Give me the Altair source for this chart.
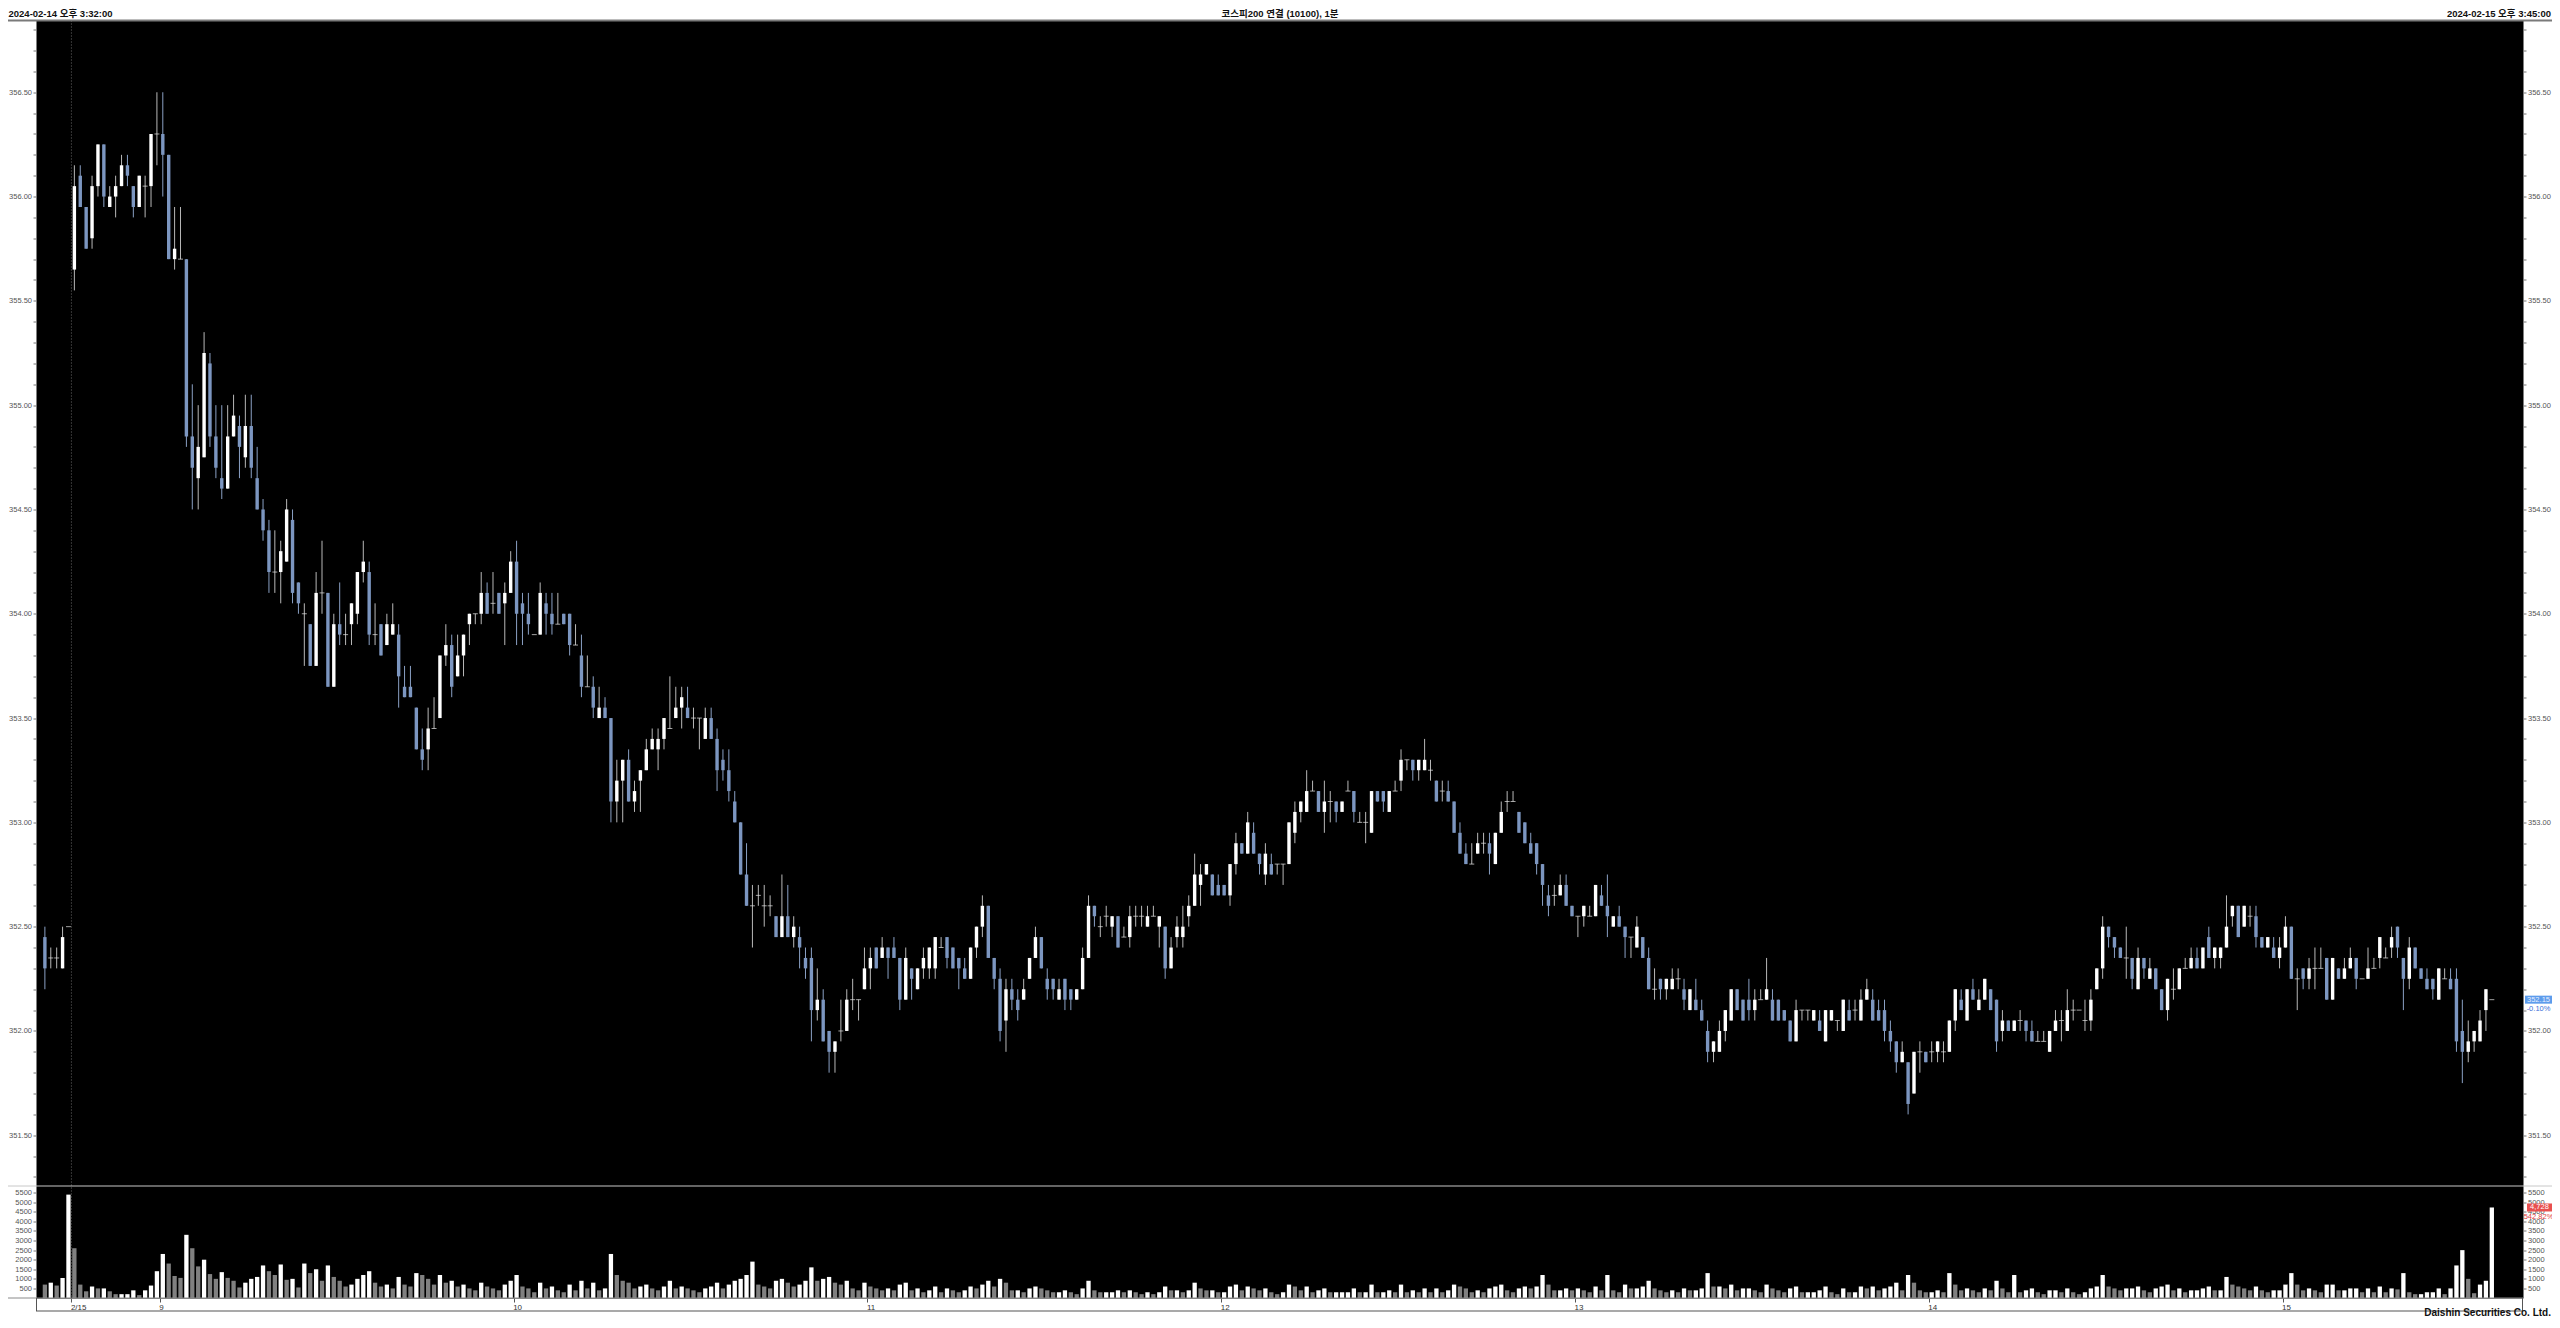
import altair as alt
import pandas as pd

# ---------------- data ----------------
# 5 closing candles of 2024-02-14, then 2024-02-15 from 08:45 (1-minute bars)
opens = [
    352.45, 352.35, 352.35, 352.30, 352.50,
    355.65, 356.10, 355.95, 355.80, 356.05, 356.25, 355.95, 356.00, 356.05, 356.15,
    356.05, 355.95, 356.05, 356.05, 356.30, 356.30, 356.20, 355.70, 355.70, 355.70,
    354.85, 354.65, 354.75, 355.20, 354.85, 354.65, 354.60, 354.85, 354.90, 354.75,
    354.90, 354.65, 354.50, 354.40, 354.20, 354.20, 354.25, 354.45, 354.15, 354.00,
    353.95, 353.75, 354.10, 354.10, 353.65, 353.95, 353.90, 353.95, 354.00, 354.20,
    354.20, 353.90, 353.95, 353.85, 353.90, 353.90, 353.65, 353.65, 353.55, 353.35,
    353.35, 353.45, 353.50, 353.80, 353.85, 353.70, 353.80, 353.95, 354.00, 354.00,
    354.10, 354.05, 354.10, 354.05, 354.10, 354.25, 354.05, 354.00, 353.90, 353.90,
    354.05, 354.00, 353.95, 354.00, 354.00, 353.85, 353.80, 353.65, 353.65, 353.50,
    353.55, 353.50, 353.10, 353.20, 353.30, 353.10, 353.20, 353.25, 353.35, 353.35,
    353.40, 353.45, 353.50, 353.55, 353.55, 353.50, 353.50, 353.40, 353.50, 353.40,
    353.30, 353.25, 353.10, 353.00, 352.75, 352.60, 352.65, 352.60, 352.60, 352.55,
    352.45, 352.55, 352.45, 352.45, 352.35, 352.35, 352.10, 352.15, 352.00, 351.90,
    352.00, 352.00, 352.15, 352.15, 352.20, 352.30, 352.40, 352.35, 352.40, 352.40,
    352.35, 352.15, 352.30, 352.20, 352.30, 352.30, 352.30, 352.40, 352.45, 352.40,
    352.35, 352.30, 352.25, 352.40, 352.50, 352.60, 352.35, 352.25, 352.05, 352.20,
    352.15, 352.15, 352.25, 352.35, 352.45, 352.25, 352.25, 352.15, 352.25, 352.20,
    352.15, 352.20, 352.35, 352.60, 352.50, 352.55, 352.50, 352.55, 352.45, 352.45,
    352.55, 352.55, 352.50, 352.55, 352.50, 352.50, 352.30, 352.45, 352.45, 352.55,
    352.60, 352.70, 352.75, 352.75, 352.70, 352.70, 352.65, 352.80, 352.90, 352.85,
    352.95, 352.85, 352.75, 352.80, 352.80, 352.80, 352.80, 352.95, 353.05, 353.05,
    353.15, 353.15, 353.05, 353.10, 353.10, 353.05, 353.15, 353.15, 353.00, 353.00,
    352.95, 353.15, 353.15, 353.05, 353.15, 353.20, 353.30, 353.30, 353.25, 353.25,
    353.25, 353.20, 353.15, 353.15, 353.10, 352.95, 352.85, 352.80, 352.85, 352.90,
    352.90, 352.80, 352.95, 353.10, 353.10, 353.05, 353.00, 352.90, 352.90, 352.80,
    352.65, 352.65, 352.65, 352.70, 352.60, 352.55, 352.55, 352.55, 352.55, 352.65,
    352.60, 352.50, 352.55, 352.50, 352.45, 352.40, 352.45, 352.35, 352.20, 352.25,
    352.20, 352.20, 352.25, 352.20, 352.10, 352.15, 352.10, 352.00, 351.90, 351.90,
    352.00, 352.05, 352.20, 352.15, 352.15, 352.10, 352.15, 352.15, 352.15, 352.15,
    352.10, 352.05, 351.95, 352.10, 352.10, 352.05, 352.05, 351.95, 352.05, 352.05,
    352.00, 352.10, 352.10, 352.05, 352.15, 352.15, 352.10, 352.10, 352.00, 351.95,
    351.85, 351.85, 351.70, 351.90, 351.90, 351.90, 351.90, 351.90, 351.90, 352.05,
    352.15, 352.05, 352.20, 352.10, 352.15, 352.20, 352.15, 352.00, 352.05, 352.00,
    352.05, 352.05, 352.00, 351.95, 351.95, 351.90, 352.00, 352.05, 352.00, 352.10,
    352.10, 352.05, 352.05, 352.20, 352.30, 352.50, 352.45, 352.40, 352.35, 352.35,
    352.20, 352.35, 352.25, 352.30, 352.20, 352.10, 352.20, 352.20, 352.30, 352.30,
    352.35, 352.30, 352.45, 352.35, 352.35, 352.40, 352.55, 352.60, 352.50, 352.55,
    352.55, 352.45, 352.40, 352.40, 352.35, 352.40, 352.50, 352.25, 352.30, 352.25,
    352.30, 352.30, 352.35, 352.15, 352.30, 352.25, 352.30, 352.35, 352.25, 352.25,
    352.30, 352.35, 352.35, 352.40, 352.50, 352.35, 352.25, 352.40, 352.30, 352.25,
    352.25, 352.15, 352.25, 352.25, 352.25, 352.00, 351.90, 351.95, 351.95, 352.10,
    352.15,
]
highs = [
    352.50, 352.40, 352.40, 352.50, 352.50,
    356.15, 356.15, 355.95, 356.10, 356.25, 356.25, 356.05, 356.10, 356.20, 356.20,
    356.05, 356.10, 356.10, 356.30, 356.50, 356.50, 356.20, 355.95, 355.95, 355.70,
    355.10, 355.00, 355.35, 355.25, 355.00, 355.00, 355.00, 355.05, 354.95, 355.05,
    355.05, 354.80, 354.55, 354.45, 354.40, 354.35, 354.55, 354.50, 354.15, 354.05,
    353.95, 354.20, 354.35, 354.10, 354.00, 354.15, 354.00, 354.05, 354.20, 354.35,
    354.25, 354.05, 353.95, 354.00, 354.05, 353.95, 353.75, 353.75, 353.55, 353.45,
    353.55, 353.60, 353.80, 353.95, 353.90, 353.90, 353.90, 354.00, 354.00, 354.20,
    354.15, 354.20, 354.10, 354.15, 354.30, 354.35, 354.10, 354.10, 353.90, 354.15,
    354.10, 354.10, 354.10, 354.00, 354.00, 353.95, 353.90, 353.80, 353.70, 353.65,
    353.60, 353.50, 353.30, 353.30, 353.35, 353.20, 353.25, 353.40, 353.45, 353.45,
    353.50, 353.70, 353.65, 353.65, 353.65, 353.55, 353.50, 353.55, 353.55, 353.45,
    353.35, 353.35, 353.15, 353.00, 352.90, 352.70, 352.70, 352.70, 352.65, 352.55,
    352.75, 352.70, 352.55, 352.50, 352.40, 352.40, 352.30, 352.20, 352.00, 351.95,
    352.15, 352.20, 352.25, 352.15, 352.40, 352.40, 352.40, 352.45, 352.40, 352.45,
    352.35, 352.40, 352.30, 352.30, 352.40, 352.40, 352.45, 352.45, 352.45, 352.40,
    352.35, 352.35, 352.40, 352.50, 352.65, 352.60, 352.35, 352.30, 352.25, 352.25,
    352.20, 352.25, 352.35, 352.50, 352.45, 352.30, 352.25, 352.25, 352.25, 352.20,
    352.20, 352.40, 352.65, 352.60, 352.55, 352.60, 352.55, 352.55, 352.50, 352.60,
    352.60, 352.60, 352.60, 352.60, 352.55, 352.50, 352.45, 352.55, 352.60, 352.65,
    352.85, 352.80, 352.80, 352.75, 352.75, 352.70, 352.80, 352.95, 352.90, 353.05,
    353.00, 352.85, 352.90, 352.85, 352.80, 352.80, 353.00, 353.10, 353.10, 353.25,
    353.20, 353.15, 353.20, 353.15, 353.10, 353.10, 353.20, 353.15, 353.05, 353.05,
    353.15, 353.15, 353.15, 353.15, 353.20, 353.35, 353.30, 353.30, 353.30, 353.40,
    353.30, 353.20, 353.20, 353.20, 353.10, 353.00, 352.90, 352.90, 352.95, 352.95,
    352.95, 352.95, 353.10, 353.15, 353.15, 353.05, 353.00, 352.95, 352.90, 352.80,
    352.70, 352.70, 352.75, 352.75, 352.60, 352.55, 352.60, 352.60, 352.70, 352.70,
    352.75, 352.55, 352.60, 352.50, 352.45, 352.55, 352.45, 352.40, 352.30, 352.25,
    352.25, 352.30, 352.30, 352.25, 352.20, 352.25, 352.15, 352.05, 351.95, 352.05,
    352.10, 352.20, 352.20, 352.15, 352.25, 352.20, 352.20, 352.35, 352.20, 352.15,
    352.10, 352.05, 352.15, 352.10, 352.10, 352.10, 352.10, 352.10, 352.10, 352.05,
    352.15, 352.15, 352.15, 352.20, 352.25, 352.20, 352.15, 352.15, 352.05, 351.95,
    351.95, 351.85, 351.90, 351.95, 351.90, 351.95, 351.95, 351.95, 352.05, 352.20,
    352.20, 352.20, 352.25, 352.20, 352.25, 352.20, 352.15, 352.10, 352.05, 352.05,
    352.10, 352.05, 352.05, 352.00, 352.00, 352.00, 352.10, 352.10, 352.20, 352.15,
    352.10, 352.15, 352.20, 352.30, 352.55, 352.50, 352.45, 352.40, 352.50, 352.35,
    352.40, 352.35, 352.35, 352.30, 352.20, 352.25, 352.30, 352.30, 352.35, 352.40,
    352.40, 352.40, 352.50, 352.40, 352.40, 352.65, 352.60, 352.60, 352.60, 352.60,
    352.60, 352.45, 352.45, 352.45, 352.45, 352.55, 352.50, 352.30, 352.30, 352.35,
    352.40, 352.40, 352.35, 352.35, 352.30, 352.35, 352.40, 352.35, 352.25, 352.40,
    352.35, 352.45, 352.40, 352.50, 352.50, 352.35, 352.45, 352.40, 352.30, 352.30,
    352.25, 352.30, 352.30, 352.30, 352.30, 352.15, 352.05, 352.00, 352.10, 352.20,
    352.15,
]
lows = [
    352.20, 352.30, 352.30, 352.30, 352.50,
    355.55, 355.95, 355.75, 355.75, 356.00, 355.95, 355.95, 355.90, 356.05, 356.05,
    355.90, 355.95, 355.90, 355.95, 356.15, 356.00, 355.70, 355.65, 355.70, 354.80,
    354.50, 354.50, 354.75, 354.80, 354.65, 354.55, 354.60, 354.85, 354.65, 354.70,
    354.65, 354.50, 354.35, 354.10, 354.10, 354.05, 354.25, 354.05, 354.00, 353.75,
    353.75, 353.75, 354.00, 353.65, 353.65, 353.85, 353.85, 353.85, 353.95, 354.15,
    353.85, 353.85, 353.80, 353.85, 353.90, 353.55, 353.60, 353.60, 353.35, 353.25,
    353.25, 353.45, 353.50, 353.75, 353.60, 353.70, 353.70, 353.85, 353.95, 353.95,
    354.00, 354.00, 354.00, 353.85, 354.10, 353.85, 353.85, 353.90, 353.90, 353.90,
    353.90, 353.90, 353.95, 353.95, 353.80, 353.85, 353.60, 353.65, 353.50, 353.50,
    353.50, 353.00, 353.00, 353.00, 353.10, 353.05, 353.05, 353.25, 353.35, 353.25,
    353.35, 353.45, 353.50, 353.45, 353.50, 353.45, 353.35, 353.40, 353.40, 353.15,
    353.20, 353.10, 353.00, 352.75, 352.60, 352.40, 352.60, 352.50, 352.55, 352.45,
    352.45, 352.45, 352.40, 352.30, 352.25, 351.95, 352.05, 351.95, 351.80, 351.80,
    351.95, 352.00, 352.10, 352.05, 352.20, 352.20, 352.30, 352.35, 352.25, 352.35,
    352.10, 352.15, 352.15, 352.20, 352.25, 352.25, 352.25, 352.40, 352.30, 352.30,
    352.20, 352.25, 352.25, 352.35, 352.45, 352.35, 352.20, 351.95, 351.90, 352.10,
    352.05, 352.15, 352.25, 352.35, 352.30, 352.15, 352.15, 352.15, 352.10, 352.10,
    352.15, 352.20, 352.35, 352.50, 352.45, 352.50, 352.45, 352.40, 352.45, 352.40,
    352.50, 352.50, 352.50, 352.55, 352.40, 352.25, 352.30, 352.40, 352.40, 352.50,
    352.60, 352.60, 352.75, 352.65, 352.65, 352.65, 352.60, 352.75, 352.85, 352.85,
    352.85, 352.75, 352.70, 352.75, 352.75, 352.70, 352.80, 352.90, 353.00, 353.05,
    353.15, 353.05, 352.95, 353.00, 353.00, 353.05, 353.15, 353.00, 353.00, 352.90,
    352.95, 353.10, 353.05, 353.05, 353.15, 353.15, 353.25, 353.20, 353.20, 353.25,
    353.20, 353.10, 353.10, 353.10, 352.95, 352.85, 352.80, 352.80, 352.85, 352.85,
    352.75, 352.80, 352.95, 353.05, 353.10, 352.95, 352.90, 352.85, 352.75, 352.60,
    352.55, 352.60, 352.65, 352.60, 352.55, 352.45, 352.50, 352.55, 352.55, 352.60,
    352.45, 352.50, 352.50, 352.35, 352.35, 352.40, 352.35, 352.20, 352.15, 352.15,
    352.15, 352.20, 352.20, 352.10, 352.10, 352.10, 352.05, 351.85, 351.85, 351.90,
    351.95, 352.05, 352.10, 352.05, 352.05, 352.05, 352.15, 352.15, 352.05, 352.05,
    352.05, 351.95, 351.95, 352.05, 352.05, 352.05, 352.00, 351.95, 352.05, 352.00,
    352.00, 352.05, 352.05, 352.05, 352.15, 352.05, 352.05, 351.95, 351.90, 351.80,
    351.85, 351.60, 351.70, 351.80, 351.85, 351.85, 351.85, 351.85, 351.90, 352.00,
    352.10, 352.05, 352.15, 352.10, 352.15, 352.10, 351.90, 351.95, 352.00, 352.00,
    352.00, 351.95, 351.95, 351.95, 351.95, 351.90, 352.00, 351.95, 352.00, 352.05,
    352.10, 352.00, 352.00, 352.20, 352.25, 352.40, 352.35, 352.35, 352.25, 352.20,
    352.20, 352.25, 352.25, 352.20, 352.10, 352.05, 352.15, 352.20, 352.30, 352.30,
    352.30, 352.30, 352.35, 352.30, 352.30, 352.40, 352.50, 352.45, 352.50, 352.50,
    352.40, 352.40, 352.40, 352.35, 352.30, 352.40, 352.25, 352.10, 352.20, 352.20,
    352.20, 352.30, 352.15, 352.15, 352.25, 352.25, 352.30, 352.20, 352.25, 352.25,
    352.30, 352.30, 352.35, 352.35, 352.35, 352.10, 352.20, 352.30, 352.25, 352.20,
    352.15, 352.15, 352.25, 352.20, 351.90, 351.75, 351.85, 351.90, 351.95, 352.00,
    352.15,
]
closes = [
    352.30, 352.35, 352.35, 352.45, 352.50,
    356.05, 355.95, 355.75, 356.05, 356.25, 356.00, 356.00, 356.05, 356.15, 356.10,
    355.95, 356.10, 356.05, 356.30, 356.30, 356.20, 355.70, 355.75, 355.70, 354.85,
    354.70, 354.80, 355.25, 354.85, 354.70, 354.60, 354.85, 354.95, 354.80, 354.90,
    354.70, 354.50, 354.40, 354.20, 354.20, 354.30, 354.50, 354.10, 354.05, 354.00,
    353.75, 354.10, 354.10, 353.65, 353.95, 353.90, 353.90, 354.05, 354.20, 354.25,
    353.90, 353.90, 353.80, 353.95, 353.95, 353.70, 353.60, 353.60, 353.35, 353.30,
    353.45, 353.45, 353.80, 353.85, 353.65, 353.80, 353.90, 354.00, 354.00, 354.10,
    354.00, 354.05, 354.00, 354.10, 354.25, 354.00, 354.00, 353.95, 353.90, 354.10,
    354.00, 353.95, 353.95, 353.95, 353.85, 353.85, 353.65, 353.65, 353.55, 353.55,
    353.50, 353.10, 353.20, 353.30, 353.10, 353.15, 353.25, 353.35, 353.40, 353.40,
    353.50, 353.45, 353.55, 353.60, 353.50, 353.50, 353.50, 353.50, 353.40, 353.25,
    353.25, 353.15, 353.00, 352.75, 352.60, 352.60, 352.65, 352.60, 352.60, 352.45,
    352.55, 352.45, 352.50, 352.40, 352.30, 352.10, 352.15, 351.95, 351.90, 351.95,
    352.00, 352.15, 352.15, 352.15, 352.30, 352.35, 352.30, 352.40, 352.35, 352.35,
    352.15, 352.35, 352.25, 352.30, 352.35, 352.40, 352.45, 352.40, 352.35, 352.30,
    352.30, 352.25, 352.40, 352.50, 352.60, 352.35, 352.25, 352.00, 352.20, 352.15,
    352.10, 352.20, 352.35, 352.45, 352.30, 352.20, 352.20, 352.20, 352.15, 352.15,
    352.20, 352.35, 352.60, 352.55, 352.50, 352.55, 352.55, 352.40, 352.45, 352.55,
    352.55, 352.55, 352.55, 352.55, 352.55, 352.30, 352.40, 352.50, 352.50, 352.60,
    352.75, 352.75, 352.80, 352.65, 352.65, 352.65, 352.80, 352.90, 352.85, 353.00,
    352.85, 352.80, 352.85, 352.75, 352.80, 352.80, 353.00, 353.05, 353.10, 353.15,
    353.15, 353.05, 353.10, 353.10, 353.05, 353.10, 353.15, 353.05, 353.00, 353.00,
    353.15, 353.10, 353.10, 353.15, 353.15, 353.30, 353.30, 353.25, 353.30, 353.30,
    353.25, 353.10, 353.15, 353.10, 352.95, 352.85, 352.80, 352.80, 352.90, 352.90,
    352.85, 352.95, 353.05, 353.10, 353.10, 352.95, 352.90, 352.85, 352.80, 352.70,
    352.60, 352.65, 352.70, 352.60, 352.55, 352.55, 352.60, 352.55, 352.70, 352.60,
    352.55, 352.55, 352.50, 352.45, 352.45, 352.50, 352.35, 352.20, 352.20, 352.20,
    352.25, 352.25, 352.25, 352.15, 352.20, 352.10, 352.05, 351.90, 351.95, 352.00,
    352.10, 352.20, 352.10, 352.05, 352.10, 352.15, 352.15, 352.20, 352.05, 352.05,
    352.05, 351.95, 352.10, 352.10, 352.10, 352.10, 352.00, 352.10, 352.10, 352.05,
    352.15, 352.05, 352.10, 352.15, 352.20, 352.05, 352.05, 352.00, 351.95, 351.85,
    351.90, 351.65, 351.90, 351.90, 351.85, 351.90, 351.95, 351.90, 352.05, 352.20,
    352.10, 352.20, 352.15, 352.15, 352.25, 352.10, 351.95, 352.05, 352.00, 352.05,
    352.05, 352.00, 351.95, 351.95, 351.95, 352.00, 352.05, 352.05, 352.10, 352.10,
    352.10, 352.05, 352.15, 352.30, 352.50, 352.45, 352.40, 352.35, 352.35, 352.25,
    352.35, 352.30, 352.30, 352.20, 352.10, 352.25, 352.20, 352.30, 352.30, 352.35,
    352.30, 352.40, 352.35, 352.40, 352.40, 352.50, 352.60, 352.45, 352.60, 352.55,
    352.45, 352.40, 352.45, 352.35, 352.40, 352.50, 352.25, 352.25, 352.25, 352.30,
    352.30, 352.30, 352.15, 352.35, 352.25, 352.30, 352.35, 352.25, 352.25, 352.30,
    352.30, 352.45, 352.35, 352.45, 352.40, 352.25, 352.40, 352.30, 352.25, 352.20,
    352.20, 352.30, 352.25, 352.20, 351.95, 351.90, 351.95, 352.00, 352.05, 352.20,
    352.15,
]
volumes = [
    700, 800, 650, 1050, 5400,
    2600, 700, 350, 600, 500, 500, 350, 200, 200, 200,
    400, 150, 400, 650, 1400, 2300, 1800, 1150, 1050, 3300,
    2600, 1650, 2000, 1250, 1000, 1350, 1050, 900, 550, 800,
    1000, 1100, 1700, 1400, 1200, 1750, 950, 1000, 550, 1800,
    1300, 1500, 900, 1700, 1100, 900, 600, 700, 1000, 1200,
    1400, 800, 600, 700, 500, 1100, 700, 600, 1300, 1200,
    1000, 700, 1200, 800, 900, 600, 700, 500, 400, 800,
    600, 500, 400, 700, 900, 1200, 600, 500, 300, 800,
    500, 600, 400, 300, 700, 400, 900, 500, 800, 400,
    500, 2300, 1200, 900, 800, 500, 600, 700, 500, 400,
    600, 900, 500, 600, 500, 400, 300, 500, 600, 800,
    500, 700, 900, 1000, 1200, 1900, 700, 600, 500, 900,
    1000, 800, 600, 700, 900, 1600, 900, 1000, 1100, 800,
    700, 900, 500, 400, 800, 600, 500, 400, 500, 400,
    700, 800, 400, 500, 300, 400, 600, 300, 500, 400,
    300, 400, 600, 500, 700, 900, 600, 1000, 800, 400,
    400, 300, 500, 600, 500, 400, 300, 300, 400, 300,
    200, 500, 900, 400, 300, 300, 300, 400, 300, 400,
    300, 200, 300, 200, 300, 600, 400, 400, 300, 400,
    800, 500, 400, 400, 300, 300, 600, 700, 400, 600,
    500, 400, 500, 300, 200, 300, 700, 600, 400, 600,
    300, 400, 500, 300, 300, 300, 300, 500, 300, 300,
    700, 300, 300, 400, 300, 700, 300, 400, 300, 500,
    300, 500, 300, 400, 700, 600, 500, 300, 400, 300,
    500, 600, 700, 400, 300, 500, 600, 500, 600, 1200,
    700, 400, 400, 500, 400, 500, 400, 300, 600, 400,
    1200, 400, 300, 700, 500, 500, 600, 900, 500, 400,
    300, 400, 300, 500, 400, 400, 500, 1300, 600, 600,
    500, 700, 400, 500, 500, 400, 300, 700, 500, 400,
    300, 500, 600, 300, 300, 300, 400, 600, 300, 200,
    500, 300, 300, 600, 500, 600, 400, 500, 600, 800,
    400, 1200, 800, 400, 300, 300, 400, 300, 1300, 700,
    400, 500, 400, 300, 500, 400, 900, 500, 300, 1200,
    300, 400, 500, 300, 200, 400, 400, 300, 500, 300,
    200, 300, 500, 600, 1200, 600, 500, 400, 500, 500,
    600, 400, 300, 500, 600, 700, 400, 500, 300, 400,
    400, 500, 600, 400, 400, 1100, 700, 600, 500, 400,
    600, 400, 300, 400, 400, 700, 1300, 700, 400, 500,
    400, 300, 700, 700, 400, 400, 500, 500, 300, 500,
    300, 600, 300, 500, 450, 1300, 300, 200, 200, 300,
    300, 500, 200, 500, 1700, 2500, 1000, 250, 700, 900,
    4728,
]

x_tick_pos = [4.5, 19.5, 79.5, 139.5, 199.5, 259.5, 319.5, 379.5]
x_tick_text = ["2/15", "9", "10", "11", "12", "13", "14", "15"]
price_ticks = [round(351.3 + 0.1 * i, 2) for i in range(56)]
vol_ticks = [500, 1000, 1500, 2000, 2500, 3000, 3500, 4000, 4500, 5000, 5500]
day_boundary = [4.5]

title_left = "2024-02-14 오후 3:32:00"
title_center = "코스피200 연결 (10100), 1분"
title_right = "2024-02-15 오후 3:45:00"
footer = "Daishin Securities Co. Ltd."
last_price = 352.15
last_price_text = "352.15"
last_change_text = "-0.10%"
last_volume = 4728
last_volume_text = "4,728"
last_volume_pct = "542.82%"

# ---------------- layout ----------------
W = 2487
H = 1277.5
R = 29          # right padding (keeps the page from overflowing)
SEP_Y = 1165.5
X0, X1 = -0.659, 419.44
P_TOP = 356.844
P_BOT = P_TOP - H / 208.6
V_TOP = H / (105.3 / 5500)

FONT = "Liberation Sans, Noto Sans CJK KR, sans-serif"
UP = "#ffffff"
DOWN = "#7c96c0"

n = len(closes)
df = pd.DataFrame({"t": list(range(n)), "o": opens, "h": highs, "l": lows,
                   "c": closes, "v": volumes})
df["body_col"] = [UP if c >= o else DOWN for o, c in zip(opens, closes)]
df["wick_col"] = ["#b8b8b8" if c >= o else "#8aa0c4" for o, c in zip(opens, closes)]
prev_v = [volumes[0] + 1] + volumes[:-1]
df["vol_col"] = ["#ffffff" if v >= p else "#808080" for v, p in zip(volumes, prev_v)]

xs = alt.Scale(domain=[X0, X1], nice=False, zero=False)
ps = alt.Scale(domain=[P_BOT, P_TOP], nice=False, zero=False)
vs = alt.Scale(domain=[0, V_TOP], nice=False, zero=False)

x_expr = " : ".join(f"datum.value == {p} ? '{s}'" for p, s in zip(x_tick_pos, x_tick_text)) + " : ''"
x_axis = alt.Axis(values=x_tick_pos, labelExpr=x_expr, tickSize=4, tickColor="#555555",
                  domain=False, grid=False, labelFont=FONT, labelFontSize=8,
                  labelColor="#333333", labelAlign="left", labelOffset=-1,
                  labelPadding=1, labelOverlap=False, labelFlush=False, title=None)
X = alt.X("t:Q", scale=xs, axis=x_axis, title=None)

p_expr = "abs(datum.value * 2 - round(datum.value * 2)) < 0.01 ? format(datum.value, '.2f') : ''"


def price_axis(orient):
    return alt.Axis(orient=orient, values=price_ticks, labelExpr=p_expr, tickSize=3,
                    tickColor="#777777", domain=False, grid=False, labelFont=FONT,
                    labelFontSize=7.5, labelColor="#555555", labelPadding=1.5,
                    labelOverlap=False, labelFlush=False, title=None)


def vol_axis(orient):
    return alt.Axis(orient=orient, values=vol_ticks, format="d", tickSize=3,
                    tickColor="#777777", domain=False, grid=False, labelFont=FONT,
                    labelFontSize=7.5, labelColor="#555555", labelPadding=1.5,
                    labelOverlap=False, labelFlush=False, title=None)


base = alt.Chart(df)

wicks = base.mark_rule(strokeWidth=1).encode(
    x=X,
    y=alt.Y("l:Q", scale=ps, axis=price_axis("left")),
    y2="h:Q",
    color=alt.Color("wick_col:N", scale=None),
)
bodies = base.mark_bar(width=3.4).encode(
    x=X,
    y=alt.Y("o:Q", scale=ps, axis=price_axis("right")),
    y2="c:Q",
    color=alt.Color("body_col:N", scale=None),
)
dojis = base.transform_filter("datum.o == datum.c").mark_tick(
    orient="horizontal", size=5, thickness=1, color="#e6e6e6"
).encode(x=X, y=alt.Y("c:Q", scale=ps, axis=None))

lp = pd.DataFrame({"p": [last_price], "s": [last_price_text], "pc": [last_change_text]})
pbox = alt.Chart(lp).mark_rule(strokeWidth=8, color="#5d9cec").encode(
    y=alt.Y("p:Q", scale=ps, axis=None), x=alt.value(W + 2), x2=alt.value(W + R))
ptext = alt.Chart(lp).mark_text(font=FONT, fontSize=7.5, color="#e8f0ff",
                                align="center", baseline="middle").encode(
    y=alt.Y("p:Q", scale=ps, axis=None), x=alt.value(W + 15.5), text="s:N")
ppct = alt.Chart(lp).mark_text(font=FONT, fontSize=7.5, color="#3a6fd8",
                               align="center", baseline="middle", dy=9).encode(
    y=alt.Y("p:Q", scale=ps, axis=None), x=alt.value(W + 15.5), text="pc:N")

price_layer = alt.layer(wicks, bodies, dojis, pbox, ptext, ppct).resolve_axis(y="independent")

vbars = base.mark_bar(width=4.3).encode(
    x=X,
    y=alt.Y("v:Q", scale=vs, axis=vol_axis("left")),
    color=alt.Color("vol_col:N", scale=None),
)
lv = pd.DataFrame({"v": [last_volume], "s": [last_volume_text], "pc": [last_volume_pct]})
vright = alt.Chart(lv).mark_point(opacity=0).encode(
    y=alt.Y("v:Q", scale=vs, axis=vol_axis("right")))
vbox = alt.Chart(lv).mark_rule(strokeWidth=8, color="#e8504f").encode(
    y=alt.Y("v:Q", scale=vs, axis=None), x=alt.value(W + 4), x2=alt.value(W + R))
vtext = alt.Chart(lv).mark_text(font=FONT, fontSize=7.5, color="#ffffff",
                                align="center", baseline="middle").encode(
    y=alt.Y("v:Q", scale=vs, axis=None), x=alt.value(W + 16.5), text="s:N")
vpct = alt.Chart(lv).mark_text(font=FONT, fontSize=7.5, color="#e03c3c",
                               align="center", baseline="middle", dy=10).encode(
    y=alt.Y("v:Q", scale=vs, axis=None), x=alt.value(W + 15.5), text="pc:N")

vol_layer = alt.layer(vbars, vright, vbox, vtext, vpct).resolve_axis(y="independent")

one = pd.DataFrame({"a": [0]})


def hline(y, x1, x2, color, sw):
    return alt.Chart(one).mark_rule(color=color, strokeWidth=sw).encode(
        y=alt.value(y), x=alt.value(x1), x2=alt.value(x2))


def vline(x, y1, y2, color, sw):
    return alt.Chart(one).mark_rule(color=color, strokeWidth=sw).encode(
        x=alt.value(x), y=alt.value(y1), y2=alt.value(y2))


frame = [
    hline(0, -28, W + R, "#7a7a7a", 2),
    hline(SEP_Y, -28, W + R, "#c8c8c8", 1),
    hline(H, -28, W, "#8a8a8a", 1),
    hline(H + 13, 0, W, "#555555", 1.2),
    vline(0.5, H, H + 13, "#555555", 1),
    vline(W - 0.5, H, H + 13, "#555555", 1),
]

day_line = alt.Chart(pd.DataFrame({"t": day_boundary})).mark_rule(
    color="#6a6a6a", strokeDash=[1, 2], strokeWidth=1).encode(
    x=X, y=alt.value(0), y2=alt.value(H + 4))


def label(text, x, y, align, size=9.5, weight="bold", color="#111111"):
    return alt.Chart(pd.DataFrame({"s": [text]})).mark_text(
        font=FONT, fontSize=size, fontWeight=weight, color=color,
        align=align, baseline="middle").encode(
        text="s:N", x=alt.value(x), y=alt.value(y))


texts = [
    label(title_left, -27.5, -6.5, "left"),
    label(title_center, 1244, -6.5, "center"),
    label(title_right, W + R - 1, -6.5, "right"),
    label(footer, W + R - 1, 1292.5, "right", size=10),
]

chart = alt.layer(
    price_layer, vol_layer, day_line, *frame, *texts
).resolve_scale(y="independent").properties(
    width=W, height=H,
    padding={"left": 28, "top": 12.5, "right": R, "bottom": 22},
    autosize=alt.AutoSizeParams(type="none"),
    background="white",
).configure_view(fill="black", strokeOpacity=0)

chart.save("out.html", embed_options={"renderer": "svg", "actions": False})
